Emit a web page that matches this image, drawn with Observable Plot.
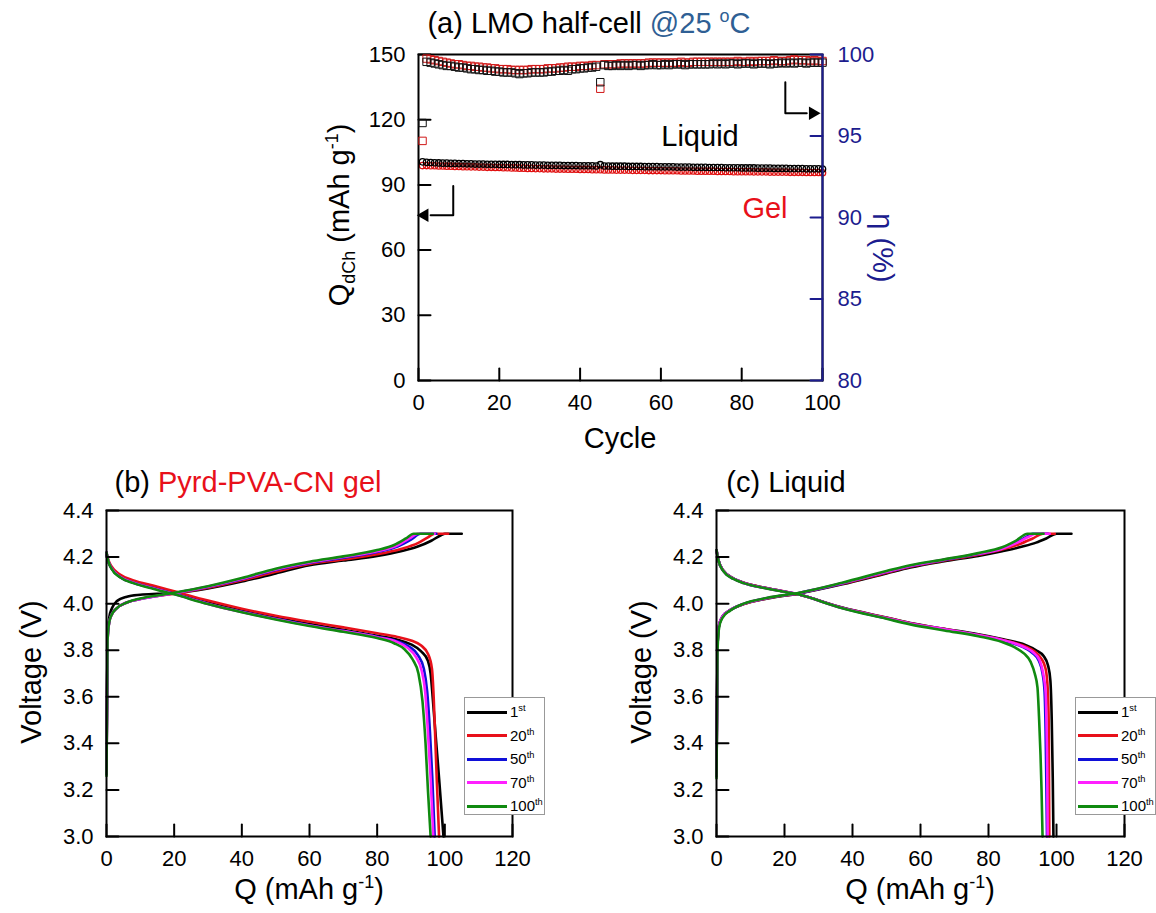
<!DOCTYPE html>
<html><head><meta charset="utf-8">
<script src="https://cdn.jsdelivr.net/npm/d3@7"></script>
<script src="https://cdn.jsdelivr.net/npm/@observablehq/plot@0.6"></script>
<style>
body{margin:0;background:#fff;}
#root{position:relative;width:1156px;height:913px;font-family:"Liberation Sans",Arial,sans-serif;color:#000;overflow:hidden;}
.t{position:absolute;white-space:nowrap;line-height:1;transform:translate(-50%,-50%);}
.plotbox{position:absolute;}
.plotbox svg{overflow:visible;}
sup,sub{font-size:0.62em;line-height:0;}
.leg{position:absolute;border:1px solid #999;background:#fff;box-sizing:border-box;}
.leg .row{position:absolute;left:2px;height:0;}
.leg .sw{position:absolute;left:0;top:-1.5px;width:40px;height:3px;}
.leg .lb{position:absolute;left:43px;top:-8px;font-size:15px;line-height:1;white-space:nowrap;}
</style>
</head><body><div id="root"></div>
<script>
// ---------- Panel (a): cycling data ----------
const capLiquid = [100.6,100.4,100.3,100.2,100.1,100.0,100.0,99.9,99.9,99.8,
 99.8,99.7,99.7,99.6,99.6,99.6,99.5,99.5,99.5,99.4,
 99.4,99.4,99.3,99.3,99.3,99.2,99.2,99.2,99.1,99.1,
 99.1,99.0,99.0,99.0,99.0,98.9,98.9,98.9,98.9,98.8,
 98.8,98.8,98.8,98.7,99.3,98.7,98.7,98.6,98.6,98.6,
 98.6,98.5,98.5,98.5,98.5,98.4,98.4,98.4,98.4,98.3,
 98.3,98.3,98.3,98.2,98.2,98.2,98.2,98.1,98.1,98.1,
 98.1,98.0,98.0,98.0,98.0,97.9,97.9,97.9,97.9,97.8,
 97.8,97.8,97.8,97.7,97.7,97.7,97.7,97.6,97.6,97.6,
 97.6,97.5,97.5,97.5,97.5,97.4,97.4,97.4,97.4,97.3];
const capGel = [98.9,98.9,98.8,98.8,98.7,98.7,98.6,98.6,98.5,98.5,
 98.4,98.4,98.3,98.3,98.2,98.2,98.1,98.1,98.0,98.0,
 97.9,97.9,97.8,97.8,97.7,97.7,97.6,97.6,97.5,97.5,
 97.4,97.4,97.4,97.3,97.3,97.3,97.2,97.2,97.2,97.1,
 97.1,97.1,97.0,97.0,97.0,96.9,96.9,96.9,96.8,96.8,
 96.8,96.8,96.7,96.7,96.7,96.7,96.6,96.6,96.6,96.6,
 96.5,96.5,96.5,96.5,96.4,96.4,96.4,96.4,96.3,96.3,
 96.3,96.3,96.3,96.2,96.2,96.2,96.2,96.1,96.1,96.1,
 96.1,96.1,96.0,96.0,96.0,96.0,95.9,95.9,95.9,95.9,
 95.9,95.8,95.8,95.8,95.8,95.7,95.7,95.7,95.7,95.6];
const effLiquid = [95.8,99.55,99.5,99.45,99.4,99.35,99.3,99.3,99.25,99.2,
 99.2,99.15,99.1,99.1,99.05,99.05,99.0,99.0,98.95,98.95,
 98.9,98.9,98.9,98.85,98.8,98.85,98.85,98.9,98.9,98.9,
 98.9,98.95,98.95,99.0,99.0,99.05,99.0,99.1,99.1,99.15,
 99.15,99.2,99.2,99.25,98.3,99.35,99.3,99.3,99.35,99.3,
 99.35,99.3,99.35,99.35,99.3,99.35,99.35,99.4,99.35,99.35,
 99.4,99.35,99.4,99.4,99.4,99.35,99.4,99.4,99.4,99.4,
 99.4,99.4,99.45,99.4,99.45,99.4,99.45,99.45,99.4,99.45,
 99.45,99.45,99.4,99.45,99.45,99.45,99.4,99.45,99.45,99.5,
 99.45,99.5,99.45,99.5,99.5,99.45,99.5,99.5,99.5,99.5];
const effGel = [94.7,99.75,99.7,99.65,99.6,99.55,99.5,99.45,99.4,99.4,
 99.35,99.3,99.3,99.25,99.25,99.2,99.2,99.15,99.15,99.1,
 99.1,99.1,99.05,99.05,99.05,99.05,99.05,99.1,99.1,99.1,
 99.1,99.15,99.15,99.15,99.2,99.2,99.25,99.25,99.25,99.3,
 99.3,99.3,99.35,99.35,97.9,99.4,99.4,99.4,99.4,99.45,
 99.45,99.45,99.45,99.45,99.45,99.45,99.5,99.5,99.5,99.5,
 99.5,99.5,99.5,99.5,99.55,99.5,99.5,99.55,99.55,99.55,
 99.55,99.55,99.55,99.55,99.55,99.55,99.55,99.55,99.6,99.55,
 99.55,99.6,99.55,99.6,99.6,99.6,99.6,99.65,99.6,99.6,
 99.6,99.65,99.7,99.65,99.65,99.65,99.6,99.65,99.6,99.6];
const capTicks = [0,30,60,90,120,150];
const effTicks = [80,85,90,95,100];
const cycleTicks = [0,20,40,60,80,100];
const arrowCap = {x: 8.6, yTop: 89.5, yCorner: 76, xEnd: 1.5};
const arrowEff = {x: 90.8, yTop: 98.3, yCorner: 96.4, xEnd: 97.6};

// ---------- Panels (b),(c): voltage profiles [Q, V] ----------
const cycleNames = ["1st","20th","50th","70th","100th"];
const cycleColors = ["#000000","#e8101a","#1010d8","#ff20ff","#108a10"];
const gelCharge = [
 [[0,3.30],[0.3,3.86],[0.8,3.94],[1.6,3.98],[3,4.01],[6,4.03],[10,4.038],[15,4.042],[20,4.045],[30,4.065],[40,4.095],[50,4.13],[60,4.165],[70,4.185],[80,4.205],[87,4.225],[92,4.245],[96,4.27],[99,4.295],[100,4.30],[105,4.30]],
 [[0,3.27],[0.3,3.84],[0.8,3.92],[1.6,3.955],[3,3.98],[6,4.005],[10,4.02],[15,4.033],[20,4.043],[30,4.068],[40,4.10],[50,4.137],[60,4.17],[70,4.19],[80,4.212],[87,4.235],[92,4.26],[95,4.285],[97,4.30],[101,4.30]],
 [[0,3.27],[0.3,3.84],[0.8,3.92],[1.6,3.955],[3,3.98],[6,4.005],[10,4.02],[15,4.033],[20,4.045],[30,4.072],[40,4.105],[50,4.145],[60,4.175],[70,4.197],[80,4.222],[86,4.245],[90,4.275],[92.8,4.30],[97.5,4.30]],
 [[0,3.27],[0.3,3.84],[0.8,3.92],[1.6,3.955],[3,3.98],[6,4.005],[10,4.02],[15,4.033],[20,4.045],[30,4.073],[40,4.107],[50,4.147],[60,4.177],[70,4.2],[80,4.225],[86,4.25],[89.5,4.28],[92,4.30],[97,4.30]],
 [[0,3.26],[0.3,3.84],[0.8,3.92],[1.6,3.955],[3,3.98],[6,4.005],[10,4.022],[15,4.035],[20,4.047],[30,4.075],[40,4.11],[50,4.15],[60,4.18],[70,4.203],[80,4.23],[85,4.252],[88.5,4.28],[90.8,4.30],[96.5,4.30]]
];
const gelDischarge = [
 [[0,4.21],[0.5,4.18],[1.5,4.15],[4,4.115],[8,4.09],[14,4.068],[20,4.045],[30,4.005],[40,3.97],[50,3.94],[60,3.912],[70,3.888],[80,3.862],[86,3.845],[90,3.825],[93,3.795],[95,3.755],[95.8,3.70],[96.4,3.60],[97.2,3.45],[98.3,3.25],[99.6,3.0]],
 [[0,4.22],[0.5,4.19],[1.5,4.16],[4,4.125],[8,4.10],[14,4.077],[20,4.053],[30,4.013],[40,3.978],[50,3.948],[60,3.922],[70,3.898],[80,3.873],[86,3.857],[90,3.842],[93,3.82],[95,3.785],[96.2,3.72],[96.7,3.60],[97.1,3.45],[97.6,3.25],[98.3,3.0]],
 [[0,4.22],[0.5,4.185],[1.5,4.152],[4,4.115],[8,4.09],[14,4.066],[20,4.042],[30,4.0],[40,3.965],[50,3.935],[60,3.907],[70,3.883],[80,3.858],[86,3.838],[89.5,3.815],[92,3.78],[93.8,3.72],[94.8,3.62],[95.6,3.45],[96.3,3.25],[97.0,3.0]],
 [[0,4.22],[0.5,4.185],[1.5,4.152],[4,4.115],[8,4.09],[14,4.065],[20,4.041],[30,3.999],[40,3.964],[50,3.934],[60,3.906],[70,3.882],[80,3.856],[86,3.835],[89,3.81],[91.5,3.77],[93.2,3.71],[94.2,3.62],[95.0,3.45],[95.8,3.25],[96.6,3.0]],
 [[0,4.22],[0.5,4.185],[1.5,4.15],[4,4.113],[8,4.088],[14,4.063],[20,4.04],[30,3.998],[40,3.963],[50,3.932],[60,3.904],[70,3.879],[80,3.852],[85,3.83],[88,3.805],[90.5,3.76],[92.2,3.70],[93.4,3.58],[94.3,3.40],[95.0,3.2],[95.8,3.0]]
];
const liqCharge = [
 [[0,3.26],[0.3,3.82],[0.8,3.91],[1.8,3.945],[4,3.972],[8,3.998],[15,4.022],[24,4.043],[37,4.083],[50,4.13],[57,4.155],[67,4.182],[77,4.205],[84,4.225],[90,4.245],[94,4.262],[97,4.28],[100,4.30],[104.4,4.30]],
 [[0,3.26],[0.3,3.82],[0.8,3.91],[1.8,3.945],[4,3.972],[8,3.998],[15,4.023],[24,4.044],[37,4.085],[50,4.133],[57,4.158],[67,4.185],[77,4.21],[84,4.232],[89,4.255],[93,4.28],[96,4.30],[99.5,4.30]],
 [[0,3.26],[0.3,3.82],[0.8,3.91],[1.8,3.945],[4,3.972],[8,3.999],[15,4.024],[24,4.045],[37,4.087],[50,4.136],[57,4.161],[67,4.188],[77,4.213],[84,4.237],[88,4.262],[91,4.285],[93,4.30],[97.5,4.30]],
 [[0,3.26],[0.3,3.82],[0.8,3.91],[1.8,3.945],[4,3.972],[8,3.999],[15,4.024],[24,4.045],[37,4.088],[50,4.137],[57,4.162],[67,4.189],[77,4.214],[84,4.236],[88.5,4.262],[91.5,4.285],[94,4.30],[98,4.30]],
 [[0,3.25],[0.3,3.80],[0.8,3.90],[1.8,3.94],[4,3.97],[8,4.0],[15,4.025],[24,4.046],[37,4.09],[50,4.14],[57,4.165],[67,4.19],[77,4.217],[84,4.242],[88,4.27],[91.5,4.30],[96.2,4.30]]
];
const liqDischarge = [
 [[0,4.23],[0.5,4.19],[2,4.142],[5,4.108],[8,4.09],[15,4.066],[24,4.04],[37,3.983],[50,3.94],[57,3.917],[67,3.892],[77,3.868],[84,3.848],[88,3.835],[91,3.822],[94,3.80],[96.2,3.775],[97.5,3.735],[98.2,3.67],[98.6,3.5],[98.9,3.25],[99.1,3.0]],
 [[0,4.23],[0.5,4.19],[2,4.142],[5,4.108],[8,4.09],[15,4.066],[24,4.04],[37,3.982],[50,3.939],[57,3.916],[67,3.891],[77,3.866],[84,3.845],[88,3.83],[91,3.815],[93.5,3.795],[95.5,3.765],[96.8,3.72],[97.4,3.64],[97.7,3.5],[97.8,3.25],[97.9,3.0]],
 [[0,4.23],[0.5,4.19],[2,4.141],[5,4.107],[8,4.089],[15,4.065],[24,4.04],[37,3.981],[50,3.937],[57,3.914],[67,3.889],[77,3.864],[84,3.843],[88,3.826],[91,3.807],[93,3.787],[94.8,3.755],[95.9,3.70],[96.5,3.62],[96.8,3.45],[97.0,3.25],[97.2,3.0]],
 [[0,4.23],[0.5,4.19],[2,4.141],[5,4.107],[8,4.089],[15,4.065],[24,4.04],[37,3.981],[50,3.938],[57,3.915],[67,3.89],[77,3.865],[84,3.844],[88,3.828],[91,3.81],[93.2,3.79],[95,3.758],[96.1,3.70],[96.8,3.62],[97.1,3.45],[97.3,3.25],[97.4,3.0]],
 [[0,4.23],[0.5,4.19],[2,4.14],[5,4.106],[8,4.088],[15,4.064],[24,4.04],[37,3.98],[50,3.935],[57,3.911],[67,3.885],[77,3.86],[84,3.835],[88,3.81],[90.5,3.785],[92.4,3.75],[93.6,3.70],[94.4,3.64],[94.9,3.50],[95.3,3.35],[95.6,3.2],[95.9,3.0]]
];
const qTicks = [0,20,40,60,80,100,120];
const vTicks = [3.0,3.2,3.4,3.6,3.8,4.0,4.2,4.4];

// ---------- helpers ----------
const root = document.getElementById("root");
const FONT = '"Liberation Sans", Arial, sans-serif';
const NAVY = "#1c1c8e";
const TICK = 12;
function addText(html, x, y, opts = {}) {
  const d = document.createElement("div");
  d.className = "t";
  d.innerHTML = html;
  d.style.left = x + "px"; d.style.top = y + "px";
  d.style.fontSize = (opts.size || 29) + "px";
  if (opts.color) d.style.color = opts.color;
  if (opts.rotate) d.style.transform = `translate(-50%,-50%) rotate(${opts.rotate}deg)`;
  root.appendChild(d);
}
function place(svg, left, top) {
  const box = document.createElement("div");
  box.className = "plotbox";
  box.style.left = left + "px"; box.style.top = top + "px";
  box.appendChild(svg);
  root.appendChild(box);
}
// inward ticks drawn as short line segments (TICK px converted to data units), labels from label-only axes
function inX(ticks, yDom, innerH) {
  const y2 = yDom[0] + (yDom[1] - yDom[0]) * TICK / innerH;
  const segs = ticks.flatMap(t => [{t, x: t, y: yDom[0]}, {t, x: t, y: y2}]);
  return [
    Plot.line(segs, {x: "x", y: "y", z: "t", stroke: "#000", strokeWidth: 2}),
    Plot.axisX({ticks, tickSize: 0, tickPadding: 14, label: null})
  ];
}
function inY(ticks, xDom, innerW, {right = false, color = "#000", fmt} = {}) {
  const span = (xDom[1] - xDom[0]) * TICK / innerW;
  const [xa, xb] = right ? [xDom[1] - span, xDom[1]] : [xDom[0], xDom[0] + span];
  const segs = ticks.flatMap(t => [{t, x: xa, y: t}, {t, x: xb, y: t}]);
  return [
    Plot.line(segs, {x: "x", y: "y", z: "t", stroke: color, strokeWidth: 2}),
    Plot.axisY({ticks, anchor: right ? "right" : "left", tickSize: 0, tickPadding: right ? 15 : 13, label: null, color, ...(fmt ? {tickFormat: fmt} : {})})
  ];
}
const baseStyle = {background: "transparent", fontFamily: FONT, fontSize: "22px", color: "#000", overflow: "visible"};

// ---------- Panel (a) ----------
const cycTable = capLiquid.map((v, i) => ({
  cycle: i + 1, capL: v, capG: capGel[i], effL: effLiquid[i], effG: effGel[i]
}));
const aW = 580, aH = 420, aL = 118, aR = 58, aT = 14, aB = 80;
const aIW = aW - aL - aR, aIH = aH - aT - aB;
const plotA1 = Plot.plot({
  width: aW, height: aH, marginLeft: aL, marginRight: aR, marginTop: aT, marginBottom: aB,
  style: baseStyle,
  x: {domain: [0, 100]},
  y: {domain: [0, 150]},
  marks: [
    Plot.dot(cycTable, {x: "cycle", y: "capG", r: 3.2, stroke: "#e01010", strokeWidth: 1.3, fill: "none"}),
    Plot.dot(cycTable, {x: "cycle", y: "capL", r: 3.2, stroke: "#000", strokeWidth: 1.3, fill: "none"}),
    Plot.line([[arrowCap.x, arrowCap.yTop], [arrowCap.x, arrowCap.yCorner], [arrowCap.xEnd + 1.5, arrowCap.yCorner]], {stroke: "#000", strokeWidth: 2}),
    Plot.dot([[arrowCap.xEnd, arrowCap.yCorner]], {symbol: "triangle", r: 5, fill: "#000", rotate: -90}),
    Plot.frame({stroke: "#000", strokeWidth: 2}),
    ...inX(cycleTicks, [0, 150], aIH),
    ...inY(capTicks, [0, 100], aIW)
  ]
});
place(plotA1, 300, 40);
const plotA2 = Plot.plot({
  width: aW, height: aH, marginLeft: aL, marginRight: aR, marginTop: aT, marginBottom: aB,
  style: baseStyle,
  x: {domain: [0, 100], axis: null},
  y: {domain: [80, 100]},
  marks: [
    Plot.dot(cycTable, {x: "cycle", y: "effG", symbol: "square", r: 4.2, stroke: "#d01818", strokeWidth: 1, fill: "none"}),
    Plot.dot(cycTable, {x: "cycle", y: "effL", symbol: "square", r: 4.2, stroke: "#111", strokeWidth: 1, fill: "none"}),
    Plot.line([[arrowEff.x, arrowEff.yTop], [arrowEff.x, arrowEff.yCorner], [arrowEff.xEnd - 1.5, arrowEff.yCorner]], {stroke: "#000", strokeWidth: 2}),
    Plot.dot([[arrowEff.xEnd, arrowEff.yCorner]], {symbol: "triangle", r: 5, fill: "#000", rotate: 90}),
    Plot.ruleX([100], {stroke: NAVY, strokeWidth: 2}),
    ...inY(effTicks, [0, 100], aIW, {right: true, color: NAVY})
  ]
});
place(plotA2, 300, 40);
addText('(a) LMO half-cell <span style="color:#2f5f94">@25 <sup>o</sup>C</span>', 589, 23, {size: 29});
addText('Q<sub>dCh</sub> (mAh g<sup>-1</sup>)', 339, 215, {size: 29, rotate: -90});
addText('&eta; (%)', 882, 248, {size: 29, rotate: 90, color: NAVY});
addText('Cycle', 620, 438, {size: 29});
addText('Liquid', 700, 136, {size: 29});
addText('Gel', 765, 208, {size: 29, color: "#e8101a"});

// ---------- Panels (b), (c) ----------
function profileTable(charge, discharge) {
  const rows = [];
  cycleNames.forEach((name, i) => {
    charge[i].forEach(([q, v]) => rows.push({cycle: name, branch: "charge", q, v}));
    discharge[i].forEach(([q, v]) => rows.push({cycle: name, branch: "discharge", q, v}));
  });
  return rows;
}
function profilePlot(charge, discharge, w, mR) {
  const rows = profileTable(charge, discharge);
  const mL = 106, mT = 50, mB = 77, h = 453;
  const iw = w - mL - mR, ih = h - mT - mB;
  const marks = [];
  cycleNames.forEach((name, i) => {
    for (const br of ["charge", "discharge"]) {
      marks.push(Plot.line(rows.filter(d => d.cycle === name && d.branch === br),
        {x: "q", y: "v", stroke: cycleColors[i], strokeWidth: 2.6, curve: "monotone-x"}));
    }
  });
  return Plot.plot({
    width: w, height: h, marginLeft: mL, marginRight: mR, marginTop: mT, marginBottom: mB,
    style: baseStyle,
    x: {domain: [0, 120]},
    y: {domain: [3.0, 4.4]},
    marks: [
      ...marks,
      Plot.frame({stroke: "#000", strokeWidth: 2}),
      ...inX(qTicks, [3.0, 4.4], ih),
      ...inY(vTicks, [0, 120], iw, {fmt: d3.format(".1f")})
    ]
  });
}
place(profilePlot(gelCharge, gelDischarge, 560, 48), 0, 460);
place(profilePlot(liqCharge, liqDischarge, 546, 32), 610, 460);

function addLegend(left, top) {
  const lg = document.createElement("div");
  lg.className = "leg";
  lg.style.left = left + "px"; lg.style.top = top + "px";
  lg.style.width = "81px"; lg.style.height = "118px";
  cycleNames.forEach((name, i) => {
    const row = document.createElement("div");
    row.className = "row";
    row.style.top = (14 + i * 23.5) + "px";
    const m = name.match(/^(\d+)(\D+)$/);
    row.innerHTML = `<div class="sw" style="background:${cycleColors[i]}"></div><div class="lb">${m[1]}<sup>${m[2]}</sup></div>`;
    lg.appendChild(row);
  });
  root.appendChild(lg);
}
addLegend(464, 697);
addLegend(1075, 697);

addText('(b) <span style="color:#e8101a">Pyrd-PVA-CN gel</span>', 248, 482, {size: 29});
addText('(c) Liquid', 786, 482, {size: 29});
addText('Voltage (V)', 31, 672, {size: 29, rotate: -90});
addText('Voltage (V)', 641, 672, {size: 29, rotate: -90});
addText('Q (mAh g<sup>-1</sup>)', 309, 889, {size: 29});
addText('Q (mAh g<sup>-1</sup>)', 920, 889, {size: 29});
</script></body></html>
